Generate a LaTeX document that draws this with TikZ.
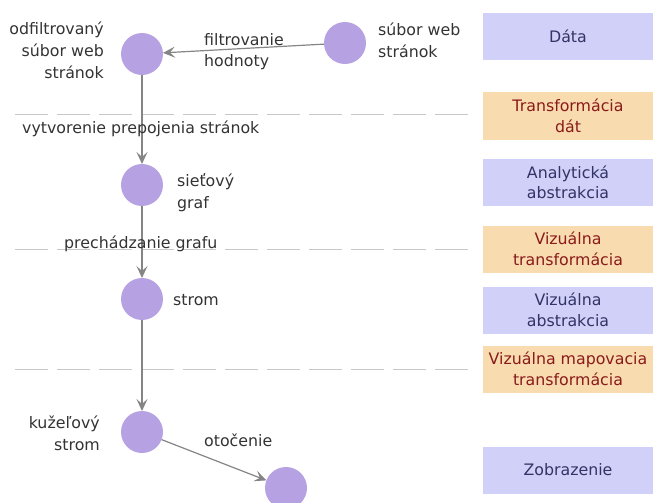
\documentclass[tikz,border=0pt]{standalone}
\usepackage{fontspec}
\setmainfont{DejaVu Sans}
\usetikzlibrary{arrows.meta}
\definecolor{nodefill}{HTML}{B6A2E2}
\definecolor{bluebox}{HTML}{D0D0F8}
\definecolor{orangebox}{HTML}{F8DCB0}
\definecolor{bluetext}{HTML}{333366}
\definecolor{redtext}{HTML}{8B1A1A}
\definecolor{edgegray}{HTML}{858585}
\definecolor{dashgray}{HTML}{C8C8C8}
\definecolor{labeltext}{HTML}{333333}
\begin{document}
\begin{tikzpicture}[x=1pt,y=-1pt,
  vert/.style={circle, fill=nodefill, minimum size=42pt, inner sep=0pt, outer sep=0pt},
  lab/.style={font=\fontsize{15.8}{22}\selectfont, text=labeltext, inner sep=0pt},
  layerbox/.style={minimum width=170pt, minimum height=47pt, inner sep=0pt, font=\fontsize{15.8}{20.5}\selectfont, align=center},
  datalayer/.style={layerbox, fill=bluebox, text=bluetext},
  translayer/.style={layerbox, fill=orangebox, text=redtext},
  flow/.style={draw=edgegray, line width=1.2pt, -{Stealth[length=12pt,width=11pt,inset=5pt]}},
  sepline/.style={draw=dashgray, line width=1pt, dash pattern=on 33pt off 9pt}
]
\useasboundingbox (0,0) rectangle (654,503);
\clip (0,0) rectangle (654,503);

% layer boxes
\node[datalayer] (L1) at (568,36.5) {Dáta};
\node[translayer] (L2) at (568,116) {Transformácia\\dát};
\node[datalayer] (L3) at (568,182.5) {Analytická\\abstrakcia};
\node[translayer] (L4) at (568,249) {Vizuálna\\transformácia};
\node[datalayer] (L5) at (568,310) {Vizuálna\\abstrakcia};
\node[translayer] (L6) at (568,369) {Vizuálna mapovacia\\transformácia};
\node[datalayer] (L7) at (568,470) {Zobrazenie};

% separators
\coordinate (s1a) at (15,115); \coordinate (s1b) at (475,115);
\coordinate (s2a) at (15,249); \coordinate (s2b) at (475,249);
\coordinate (s3a) at (15,369); \coordinate (s3b) at (475,369);
\draw[sepline] (s1a) -- (s1b);
\draw[sepline] (s2a) -- (s2b);
\draw[sepline] (s3a) -- (s3b);

% vertices
\node[vert] (A) at (142,54) {};
\node[vert] (B) at (345,43) {};
\node[vert] (C) at (142,185) {};
\node[vert] (D) at (142,299) {};
\node[vert] (E) at (142,432) {};
\node[vert] (F) at (286,488) {};

% connectors
\draw[flow] (B) -- (A);
\draw[flow] (A) -- (C);
\draw[flow] (C) -- (D);
\draw[flow] (D) -- (E);
\draw[flow] (E) -- (F);

% labels
\node[lab, anchor=north east, align=right] (lA) at (104,22) {odfiltrovaný\\súbor web\\stránok};
\node[lab, anchor=north west, align=left, font=\fontsize{15.8}{21}\selectfont] (lBA) at (204,33) {filtrovanie\\hodnoty};
\node[lab, anchor=north west, align=left] (lB) at (378,23) {súbor web\\stránok};
\node[lab, anchor=base west] (lAC) at (22,133) {vytvorenie prepojenia stránok};
\node[lab, anchor=north west, align=left] (lC) at (177,173) {sieťový\\graf};
\node[lab, anchor=base west] (lCD) at (64,248) {prechádzanie grafu};
\node[lab, anchor=base west] (lD) at (173,305) {strom};
\node[lab, anchor=north east, align=right] (lE) at (100,416) {kužeľový\\strom};
\node[lab, anchor=base west] (lEF) at (204,446) {otočenie};
\end{tikzpicture}
\end{document}
